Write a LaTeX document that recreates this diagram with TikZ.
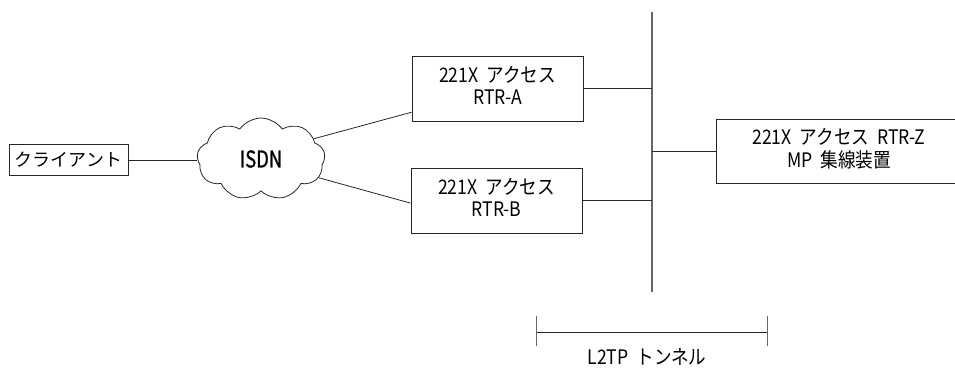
\documentclass[tikz,border=0pt]{standalone}
\usepackage{fontspec}
\setmainfont{Noto Sans CJK JP}
\usetikzlibrary{shapes.symbols,calc}
\newcommand{\jtwo}[2]{\scalebox{0.88}[1]{\begin{tabular}{@{}c@{}}#1\\#2\end{tabular}}}
\newcommand{\jone}[1]{\scalebox{0.88}[1]{#1}}
\newcommand{\wsp}{\hspace{0.45em}}
\begin{document}
\begin{tikzpicture}[x=1pt,y=-1pt,
  box/.style={draw=black!85,line width=0.9pt,inner sep=0pt,align=center,font=\fontsize{20}{22}\selectfont},
  conn/.style={draw=black!85,line width=0.8pt},
  bus/.style={draw=black!60,line width=1.1pt},
  lbl/.style={inner sep=0pt,font=\fontsize{20}{22}\selectfont}]
\useasboundingbox (0,0) rectangle (955,367);
\node[box,minimum width=119pt,minimum height=31pt,font=\fontsize{18}{22}\selectfont] (client) at (68.5,160) {クライアント};
\node[cloud,draw=black!85,line width=0.8pt,cloud puffs=9,cloud puff arc=110,aspect=1.6,minimum width=128pt,minimum height=82pt,inner sep=0pt] (cloud) at (261,159) {\fontsize{23}{23}\selectfont\addfontfeatures{FakeBold=1.2}\scalebox{0.8}[1]{ISDN}};
\node[box,minimum width=171pt,minimum height=65pt] (A) at (497.5,88.5) {\jtwo{221X\wsp アクセス}{RTR-A}};
\node[box,minimum width=171pt,minimum height=65pt] (B) at (496.5,200.5) {\jtwo{221X\wsp アクセス}{RTR-B}};
\node[box,minimum width=246pt,minimum height=64pt] (Z) at (839,151) {\jtwo{221X\wsp アクセス\wsp RTR-Z}{MP\wsp 集線装置}};
\coordinate (bt) at (652,12);
\coordinate (bb) at (652,292);
\draw[bus] (bt) -- (bb);
\draw[conn] (client.east) -- (client.east -| cloud.west);
\draw[conn] (cloud.21) -- ($(A.south west)!0.14!(A.north west)$);
\draw[conn] (cloud.-18) -- ($(B.north west)!0.54!(B.south west)$);
\draw[conn] (A.east) -- (A.east -| bt);
\draw[conn] (B.east) -- (B.east -| bt);
\draw[conn] (Z.west) -- (Z.west -| bt);
\coordinate (tl) at (536,332);
\coordinate (tr) at (767,332);
\draw[conn] (tl) -- (tr);
\draw[bus,line width=0.9pt] ($(tl)+(0,-16)$) -- ($(tl)+(0,14)$);
\draw[bus,line width=0.9pt] ($(tr)+(0,-16)$) -- ($(tr)+(0,14)$);
\node[lbl] (tun) at (647,357) {\jone{L2TP\wsp トンネル}};
\end{tikzpicture}
\end{document}
